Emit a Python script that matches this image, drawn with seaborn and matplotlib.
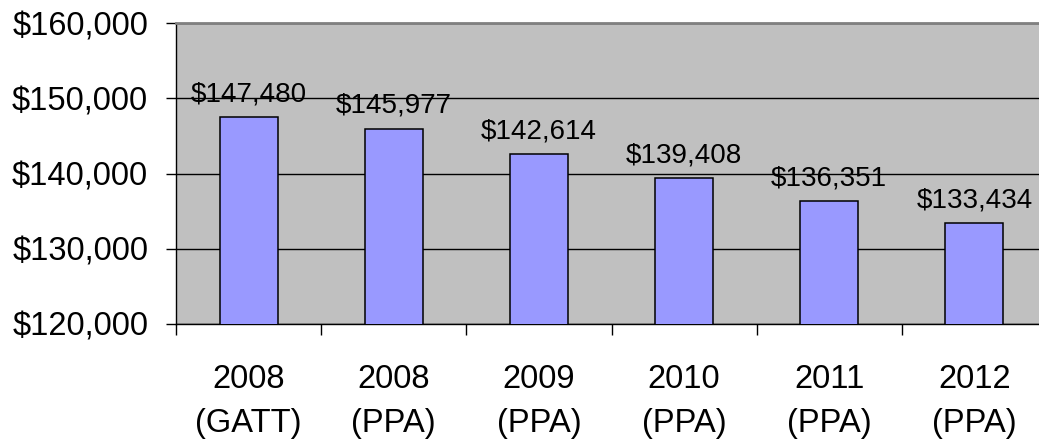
import matplotlib
matplotlib.use("Agg")
import matplotlib.pyplot as plt
import matplotlib.ticker as mticker
import pandas as pd
import seaborn as sns

# Average values by year and basis
years = ["2008", "2008", "2009", "2010", "2011", "2012"]
bases = ["(GATT)", "(PPA)", "(PPA)", "(PPA)", "(PPA)", "(PPA)"]
values = [147480, 145977, 142614, 139408, 136351, 133434]
y_ticks = [120000, 130000, 140000, 150000, 160000]

categories = [f"{y}\n{b}" for y, b in zip(years, bases)]
df = pd.DataFrame({"category": categories, "value": values})

sns.set_theme(style="white")
plt.rcParams["font.family"] = ["Liberation Sans", "DejaVu Sans"]
plt.rcParams["text.color"] = "black"
plt.rcParams["xtick.color"] = "black"
plt.rcParams["ytick.color"] = "black"
plt.rcParams["xtick.labelcolor"] = "black"
plt.rcParams["ytick.labelcolor"] = "black"

fig = plt.figure(figsize=(10.39, 4.43), dpi=100)
ax = fig.add_axes([176 / 1039, 119 / 443, 871 / 1039, 301 / 443])
ax.set_facecolor("#C0C0C0")

sns.barplot(data=df, x="category", y="value", order=categories,
            color="#9999FF", saturation=1, width=0.4,
            edgecolor="black", linewidth=1.1, ax=ax, zorder=3)

ax.set_ylim(y_ticks[0], y_ticks[-1])
ax.set_xlim(-0.5, len(categories) - 0.5)
ax.set_yticks(y_ticks)
ax.yaxis.set_major_formatter(mticker.FuncFormatter(lambda v, _: f"${v:,.0f}"))

# Horizontal gridlines
ax.set_axisbelow(True)
ax.yaxis.grid(True, color="black", linewidth=1.0)
ax.xaxis.grid(False)

# Category boundary ticks on x, labels centred in categories
ax.set_xticks([i - 0.5 for i in range(len(categories) + 1)], minor=False)
ax.set_xticklabels([])
ax.set_xticks(range(len(categories)), minor=True)
ax.set_xticklabels(categories, minor=True, fontsize=23.5, linespacing=1.55,
                   color="black")
ax.tick_params(axis="x", which="major", direction="out", length=8,
               width=1, color="black", bottom=True)
ax.tick_params(axis="x", which="minor", length=0, pad=29)
ax.tick_params(axis="y", direction="out", length=7, width=1,
               color="black", left=True, labelsize=23.5, pad=13,
               labelcolor="black")

ax.set_xlabel("")
ax.set_ylabel("")

for side in ["left", "bottom"]:
    ax.spines[side].set_color("black")
    ax.spines[side].set_linewidth(1.0)
ax.spines["top"].set_color("#808080")
ax.spines["top"].set_linewidth(2.0)
ax.spines["right"].set_color("#808080")

# Value labels above the bars
for container in ax.containers:
    ax.bar_label(container, labels=[f"${v:,.0f}" for v in values],
                 padding=7, fontsize=20, color="black")

fig.savefig("out.png", dpi=100)
